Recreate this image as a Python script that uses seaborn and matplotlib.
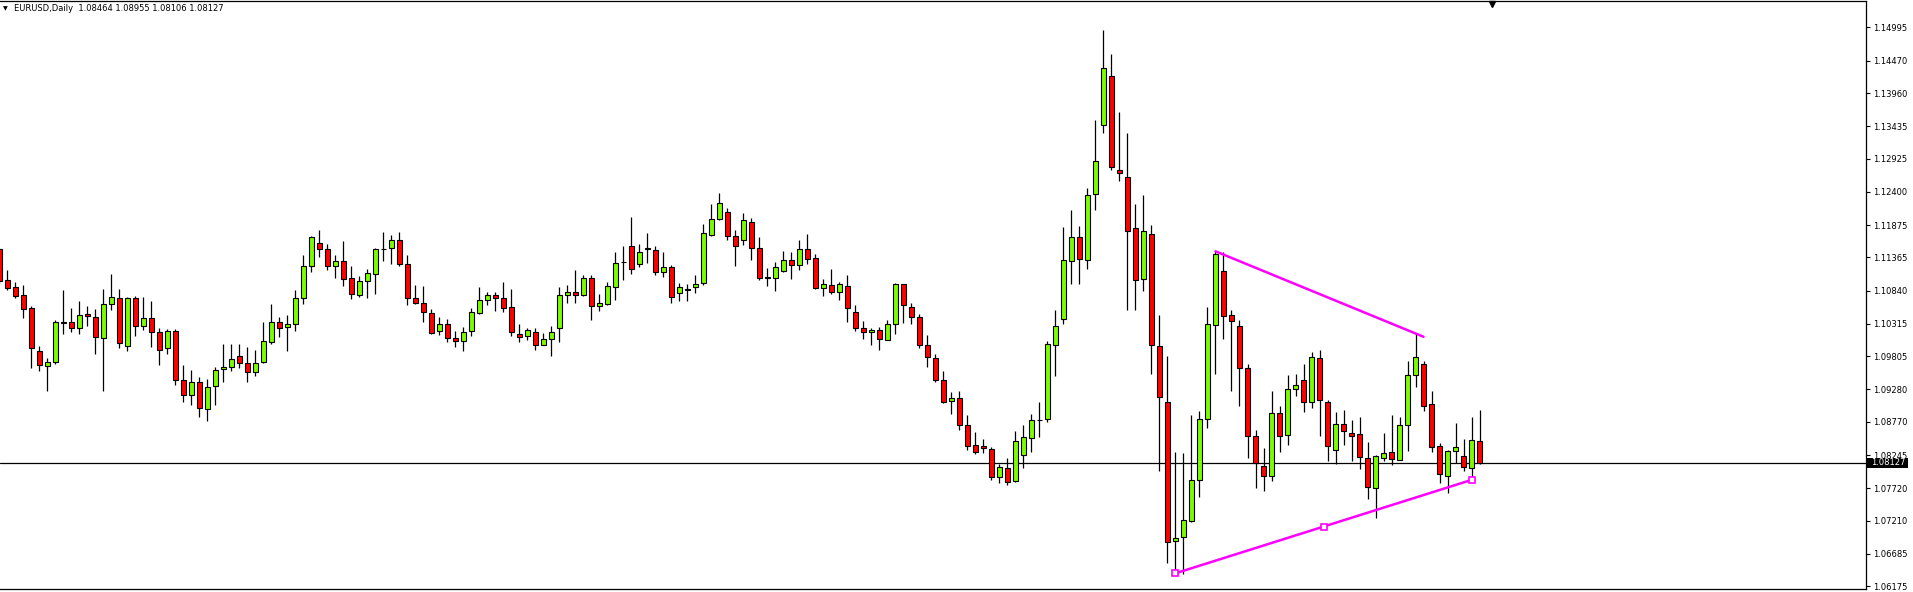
import numpy as np
import pandas as pd
import matplotlib
matplotlib.use("Agg")
import matplotlib.pyplot as plt
import matplotlib.transforms as mtransforms
from matplotlib.patches import Rectangle
import seaborn as sns

# daily EURUSD candles, oldest first (first one is cut by the left edge)
opens = [
    1.11491, 1.11004, 1.10896, 1.10772, 1.10564, 1.09886, 1.09648, 1.09708, 1.10338, 1.10344,
    1.10243, 1.10469, 1.10421, 1.10088, 1.10623, 1.10724, 1.09969, 1.10724, 1.10278, 1.10409,
    1.10189, 1.09934, 1.10201, 1.09434, 1.09191, 1.09399, 1.08971, 1.09333, 1.09601, 1.09630,
    1.09809, 1.09696, 1.09553, 1.09708, 1.10035, 1.10344, 1.10261, 1.10308, 1.10718, 1.11235,
    1.11598, 1.11491, 1.11235, 1.11301, 1.11033, 1.10778, 1.10986, 1.11111, 1.11491, 1.11515,
    1.11646, 1.11265, 1.10730, 1.10653, 1.10481, 1.10207, 1.10308, 1.10088, 1.10053, 1.10207,
    1.10481, 1.10700, 1.10766, 1.10718, 1.10576, 1.10154, 1.10118, 1.10195, 1.09987, 1.10070,
    1.10249, 1.10778, 1.10813, 1.10766, 1.11033, 1.10594, 1.10629, 1.10903, 1.11295, 1.11550,
    1.11265, 1.11509, 1.11485, 1.11128, 1.11206, 1.10796, 1.10873, 1.10891, 1.10956, 1.11723,
    1.11978, 1.12085, 1.11711, 1.11646, 1.11931, 1.11521, 1.11033, 1.11033, 1.11158, 1.11331,
    1.11253, 1.11491, 1.11348, 1.10885, 1.10926, 1.10825, 1.10920, 1.10510, 1.10249, 1.10183,
    1.10213, 1.10064, 1.10308, 1.10944, 1.10582, 1.10421, 1.09981, 1.09779, 1.09428, 1.09095,
    1.09149, 1.08721, 1.08406, 1.08388, 1.08341, 1.07901, 1.08037, 1.07835, 1.08240, 1.08513,
    1.08804, 1.08810, 1.09987, 1.10397, 1.11301, 1.11693, 1.11325, 1.12365, 1.13458, 1.14225,
    1.12745, 1.12638, 1.11836, 1.11027, 1.11741, 1.09969, 1.09078, 1.06890, 1.06956, 1.07205,
    1.07853, 1.08810, 1.10296, 1.11158, 1.10451, 1.10290, 1.09613, 1.08543, 1.08073, 1.07913,
    1.08905, 1.08561, 1.09286, 1.09428, 1.09078, 1.09773, 1.09078, 1.08323, 1.08733, 1.08590,
    1.08573, 1.08198, 1.07728, 1.08198, 1.08299, 1.08174, 1.08715, 1.09506, 1.09678, 1.09048,
    1.08388, 1.07913, 1.08311, 1.08228, 1.08043, 1.08464,
]
highs = [
    1.11521, 1.11164, 1.10974, 1.10926, 1.10599, 1.09969, 1.09779, 1.10374, 1.10849, 1.10564,
    1.10677, 1.10599, 1.10552, 1.10867, 1.11099, 1.10867, 1.10742, 1.10754, 1.10742, 1.10683,
    1.10249, 1.10237, 1.10237, 1.09666, 1.09589, 1.09482, 1.09440, 1.09636, 1.09999, 1.09993,
    1.09999, 1.09957, 1.09904, 1.10344, 1.10629, 1.10421, 1.10457, 1.10849, 1.11402, 1.11705,
    1.11794, 1.11574, 1.11396, 1.11622, 1.11224, 1.11069, 1.11182, 1.11509, 1.11764, 1.11717,
    1.11764, 1.11402, 1.10926, 1.10908, 1.10552, 1.10421, 1.10391, 1.10201, 1.10267, 1.10564,
    1.10896, 1.10825, 1.10819, 1.10974, 1.10867, 1.10314, 1.10249, 1.10249, 1.10171, 1.10284,
    1.10896, 1.10926, 1.11164, 1.11087, 1.11093, 1.10784, 1.10974, 1.11450, 1.11538, 1.11996,
    1.11574, 1.11747, 1.11538, 1.11450, 1.11241, 1.10956, 1.10944, 1.11087, 1.11889, 1.12204,
    1.12388, 1.12139, 1.11794, 1.12062, 1.11984, 1.11681, 1.11194, 1.11289, 1.11461, 1.11450,
    1.11634, 1.11729, 1.11426, 1.11021, 1.11182, 1.10974, 1.11087, 1.10611, 1.10367, 1.10243,
    1.10267, 1.10385, 1.10956, 1.10950, 1.10641, 1.10469, 1.10142, 1.09838, 1.09565, 1.09244,
    1.09250, 1.08881, 1.08614, 1.08501, 1.08370, 1.08109, 1.08204, 1.08626, 1.08715, 1.08894,
    1.09084, 1.10053, 1.10528, 1.11842, 1.12121, 1.11866, 1.12454, 1.13542, 1.14956, 1.14582,
    1.13667, 1.13334, 1.12216, 1.12353, 1.11883, 1.10457, 1.09809, 1.08299, 1.08281, 1.08876,
    1.08941, 1.10582, 1.11461, 1.11450, 1.10528, 1.10385, 1.09678, 1.08644, 1.08353, 1.09256,
    1.09024, 1.09506, 1.09518, 1.09678, 1.09868, 1.09904, 1.09107, 1.08923, 1.08953, 1.08804,
    1.08852, 1.08454, 1.08252, 1.08596, 1.08881, 1.08852, 1.09732, 1.10160, 1.09726, 1.09256,
    1.08442, 1.08329, 1.08757, 1.08501, 1.08852, 1.08955,
]
lows = [
    1.10968, 1.10855, 1.10730, 1.10415, 1.09613, 1.09565, 1.09250, 1.09678, 1.10160, 1.10195,
    1.10154, 1.10290, 1.09844, 1.09262, 1.10540, 1.09934, 1.09892, 1.10130, 1.10225, 1.09957,
    1.09660, 1.09838, 1.09357, 1.09078, 1.09042, 1.08840, 1.08775, 1.09030, 1.09393, 1.09565,
    1.09613, 1.09405, 1.09488, 1.09696, 1.10005, 1.10112, 1.09892, 1.10207, 1.10635, 1.11140,
    1.11372, 1.11170, 1.11045, 1.10920, 1.10712, 1.10742, 1.10730, 1.10790, 1.11313, 1.11265,
    1.11229, 1.10617, 1.10635, 1.10350, 1.10160, 1.10148, 1.10023, 1.09946, 1.09880, 1.10130,
    1.10469, 1.10617, 1.10522, 1.10510, 1.10130, 1.10023, 1.10064, 1.09910, 1.09975, 1.09803,
    1.10023, 1.10647, 1.10647, 1.10754, 1.10380, 1.10522, 1.10617, 1.10694, 1.11010, 1.11105,
    1.11218, 1.11277, 1.11093, 1.11057, 1.10653, 1.10683, 1.10683, 1.10807, 1.10926, 1.11699,
    1.11955, 1.11634, 1.11229, 1.11568, 1.11325, 1.11010, 1.10914, 1.10837, 1.11128, 1.11027,
    1.11170, 1.11265, 1.10861, 1.10760, 1.10790, 1.10694, 1.10350, 1.10201, 1.10082, 1.09975,
    1.09910, 1.10058, 1.10160, 1.10332, 1.10320, 1.09934, 1.09630, 1.09405, 1.09060, 1.08899,
    1.08638, 1.08323, 1.08263, 1.08281, 1.07853, 1.07806, 1.07776, 1.07823, 1.08037, 1.08287,
    1.08537, 1.08763, 1.09500, 1.10320, 1.10950, 1.10950, 1.11188, 1.12115, 1.13334, 1.12745,
    1.12567, 1.10540, 1.10540, 1.10837, 1.09529, 1.07996, 1.06534, 1.06379, 1.06367, 1.07193,
    1.07586, 1.08679, 1.09523, 1.10082, 1.09250, 1.09012, 1.08192, 1.07728, 1.07675, 1.07829,
    1.08293, 1.08400, 1.09185, 1.08917, 1.08983, 1.08543, 1.08151, 1.08103, 1.08400, 1.08151,
    1.08026, 1.07556, 1.07253, 1.08151, 1.08091, 1.08163, 1.08317, 1.09327, 1.08947, 1.08293,
    1.07800, 1.07651, 1.08127, 1.07996, 1.07859, 1.08106,
]
closes = [
    1.10986, 1.10885, 1.10760, 1.10558, 1.09934, 1.09660, 1.09708, 1.10344, 1.10332, 1.10243,
    1.10457, 1.10433, 1.10106, 1.10629, 1.10748, 1.10011, 1.10724, 1.10278, 1.10409, 1.10183,
    1.09910, 1.10201, 1.09428, 1.09191, 1.09399, 1.08983, 1.09321, 1.09589, 1.09636, 1.09761,
    1.09696, 1.09553, 1.09702, 1.10041, 1.10344, 1.10243, 1.10314, 1.10718, 1.11235, 1.11693,
    1.11491, 1.11235, 1.11301, 1.11027, 1.10784, 1.10986, 1.11117, 1.11491, 1.11497, 1.11634,
    1.11265, 1.10730, 1.10647, 1.10498, 1.10177, 1.10320, 1.10088, 1.10053, 1.10195, 1.10510,
    1.10700, 1.10778, 1.10718, 1.10570, 1.10183, 1.10106, 1.10213, 1.09981, 1.10070, 1.10195,
    1.10778, 1.10819, 1.10766, 1.11033, 1.10594, 1.10641, 1.10920, 1.11283, 1.11289, 1.11176,
    1.11443, 1.11503, 1.11128, 1.11206, 1.10742, 1.10891, 1.10843, 1.10950, 1.11758, 1.11978,
    1.12228, 1.11711, 1.11550, 1.11961, 1.11521, 1.11033, 1.11063, 1.11206, 1.11331, 1.11253,
    1.11491, 1.11342, 1.10885, 1.10938, 1.10813, 1.10938, 1.10570, 1.10243, 1.10183, 1.10213,
    1.10082, 1.10314, 1.10944, 1.10611, 1.10427, 1.09975, 1.09797, 1.09428, 1.09090, 1.09149,
    1.08715, 1.08388, 1.08293, 1.08353, 1.07895, 1.08055, 1.07823, 1.08472, 1.08531, 1.08804,
    1.08798, 1.09993, 1.10290, 1.11319, 1.11693, 1.11342, 1.12353, 1.12888, 1.14356, 1.12799,
    1.12698, 1.11788, 1.11010, 1.11788, 1.09975, 1.09161, 1.06872, 1.06932, 1.07223, 1.07853,
    1.08810, 1.10308, 1.11426, 1.10433, 1.10356, 1.09613, 1.08543, 1.08121, 1.07913, 1.08905,
    1.08543, 1.09286, 1.09345, 1.09078, 1.09791, 1.09107, 1.08388, 1.08733, 1.08626, 1.08543,
    1.08216, 1.07740, 1.08228, 1.08281, 1.08186, 1.08715, 1.09506, 1.09791, 1.09018, 1.08370,
    1.07948, 1.08311, 1.08370, 1.08055, 1.08483, 1.08127,
]

# right-hand price scale as printed by the terminal
price_ticks = [1.14995, 1.14470, 1.13960, 1.13435, 1.12925, 1.12400, 1.11875, 1.11365,
               1.10840, 1.10315, 1.09805, 1.09280, 1.08770, 1.08245, 1.07720, 1.07210,
               1.06685, 1.06175]
last_price = 1.08127
header = "EURUSD,Daily  1.08464 1.08955 1.08106 1.08127"

# hand-drawn trendlines (bar index, price)
upper_line = {"bar": [152, 178], "price": [1.11461, 1.10112]}
lower_line = {"bar": [147, 165.5, 184], "price": [1.06379, 1.07116, 1.07853]}

df = pd.DataFrame({"open": opens, "high": highs, "low": lows, "close": closes})
df["bar"] = np.arange(len(df))
df["up"] = df["close"] >= df["open"]

sns.set_style("white")
plt.rcParams["font.family"] = ["DejaVu Sans"]

fig = plt.figure(figsize=(19.13, 5.92), dpi=100)
ax = fig.add_axes([0.0, 0.005, 1866 / 1913, 0.993])

# wicks then bodies
ax.vlines(df["bar"], df["low"], df["high"], color="black", linewidth=0.9, zorder=2)
body_colors = np.where(df["up"], "#7CFC00", "#FF0000")
ax.bar(df["bar"], (df["close"] - df["open"]).abs(), bottom=df[["open", "close"]].min(axis=1),
       width=0.62, color=body_colors, edgecolor="black", linewidth=0.8, zorder=3)

# last price line
ax.axhline(last_price, color="black", linewidth=0.9, zorder=1)

# trendlines
sns.lineplot(x=upper_line["bar"], y=upper_line["price"], ax=ax, color="#FF00FF",
             linewidth=1.8, zorder=4)
sns.lineplot(x=lower_line["bar"], y=lower_line["price"], ax=ax, color="#FF00FF",
             linewidth=1.8, zorder=4, marker="s", markersize=4,
             markerfacecolor="white", markeredgecolor="#FF00FF", markeredgewidth=1.2)

ax.set_xlim(0.0875, 233.3)
ax.set_ylim(1.0613, 1.1541)

ax.set_xticks([])
ax.yaxis.tick_right()
ax.set_yticks(price_ticks)
ax.set_yticklabels([f"{p:.5f}" for p in price_ticks])
ax.tick_params(axis="y", which="both", right=True, length=3, width=0.8, labelsize=6,
               pad=2, colors="black")

for side in ["top", "bottom", "right"]:
    ax.spines[side].set_color("black")
    ax.spines[side].set_linewidth(0.9)
ax.spines["left"].set_visible(False)

# current price tag on the scale: black box about 40x10 px, under the tick labels
trans = mtransforms.blended_transform_factory(ax.transAxes, ax.transData)
box_h = 0.0928 * 10 / 589
ax.add_patch(Rectangle((1.0008, last_price - box_h / 2), 0.0215, box_h, transform=trans,
                       facecolor="black", edgecolor="none", clip_on=False, zorder=2))
ax.text(1.0025, last_price, f"{last_price:.5f}", transform=trans, fontsize=6,
        color="white", va="center", ha="left", zorder=6)

# chart shift marker and header
trans_top = mtransforms.blended_transform_factory(ax.transData, ax.transAxes)
ax.plot([186.5], [0.995], marker="v", color="black", markersize=5, transform=trans_top,
        clip_on=False, zorder=6)
fig.text(0.0015, 0.986, "\u25bc", fontsize=4.5, va="center", ha="left", color="black")
fig.text(0.0075, 0.986, header, fontsize=6, va="center", ha="left", color="black")

fig.savefig("out.png", dpi=100)
